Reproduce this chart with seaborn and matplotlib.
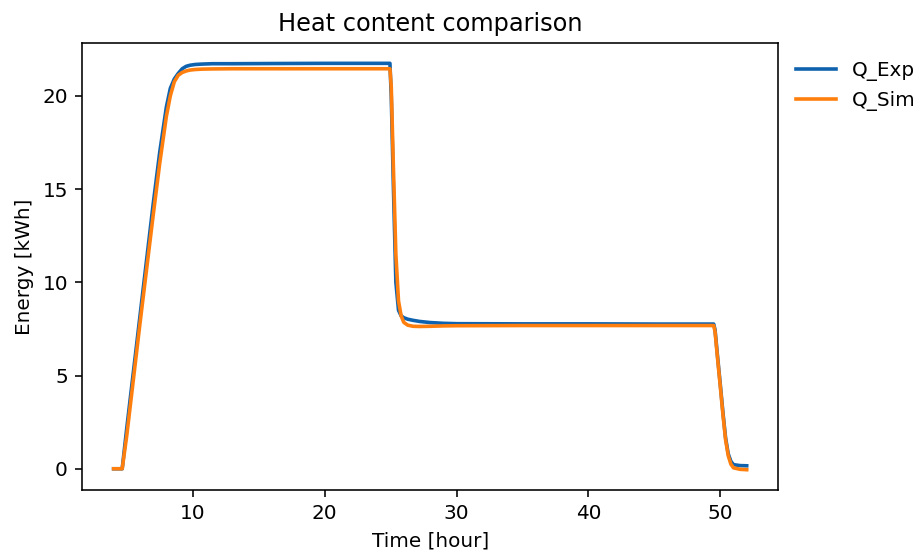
import matplotlib
matplotlib.use("Agg")
import matplotlib.pyplot as plt
import seaborn as sns
import pandas as pd

# Time axis [hour]
time_h = [4.0, 4.65, 5.0, 5.5, 6.0, 6.5, 7.0, 7.5, 8.0, 8.3, 8.6, 8.9, 9.2, 9.5,
          9.8, 10.2, 10.7, 11.5, 13.0, 16.0, 20.0, 24.95, 25.05, 25.2, 25.4,
          25.6, 25.8, 26.0, 26.3, 26.7, 27.2, 28.0, 29.0, 30.0, 35.0, 40.0,
          45.0, 49.5, 49.6, 49.8, 50.0, 50.2, 50.4, 50.6, 50.8, 51.0, 51.5, 52.0]

# Measured heat content [kWh]
q_exp = [0.0, 0.0, 2.2, 5.2, 8.2, 11.2, 14.2, 17.0, 19.4, 20.4, 20.9, 21.2, 21.45,
         21.58, 21.64, 21.68, 21.70, 21.72, 21.72, 21.73, 21.74, 21.74, 20.0,
         15.5, 10.0, 8.5, 8.2, 8.1, 8.02, 7.96, 7.90, 7.84, 7.80, 7.78, 7.77,
         7.77, 7.76, 7.76, 7.45, 5.95, 4.5, 3.0, 1.65, 0.8, 0.4, 0.22, 0.17, 0.16]

# Simulated heat content [kWh]
q_sim = [0.0, 0.0, 1.8, 4.8, 7.8, 10.7, 13.6, 16.4, 18.9, 20.0, 20.75, 21.1, 21.25,
         21.33, 21.38, 21.41, 21.43, 21.44, 21.45, 21.45, 21.45, 21.45, 20.5,
         16.5, 11.5, 9.0, 8.2, 7.85, 7.70, 7.64, 7.63, 7.64, 7.66, 7.67, 7.68,
         7.68, 7.68, 7.68, 7.35, 5.85, 4.4, 2.9, 1.55, 0.7, 0.25, 0.05, -0.03, -0.05]

series_names = ["Q_Exp", "Q_Sim"]
series_colors = ["#0f62ad", "#ff7f0e"]

df = pd.DataFrame({"Time": time_h, series_names[0]: q_exp, series_names[1]: q_sim})
long_df = df.melt(id_vars="Time", var_name="Series", value_name="Energy")

fig = plt.figure(figsize=(922 / 144, 553 / 144), dpi=144)
ax = fig.add_axes([0.0889, 0.1139, 0.7553, 0.8083])

sns.lineplot(data=long_df, x="Time", y="Energy", hue="Series",
             palette=series_colors, errorbar=None, linewidth=1.8, ax=ax)

ax.set_title("Heat content comparison", fontsize=12)
ax.set_xlabel("Time [hour]")
ax.set_ylabel("Energy [kWh]")
ax.set_xticks([10, 20, 30, 40, 50])
ax.set_yticks([0, 5, 10, 15, 20])

sns.move_legend(ax, "upper left", bbox_to_anchor=(1.0, 1.0), title=None,
                frameon=False)

fig.savefig("out.png", dpi=144)
